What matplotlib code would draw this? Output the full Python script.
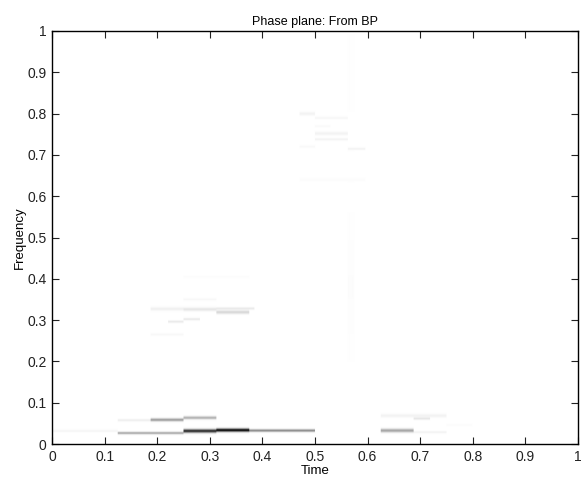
import numpy as np
from matplotlib import pyplot as plt

plt.rcParams['font.family'] = ['Liberation Sans', 'DejaVu Sans']

# time-frequency atoms
t_start = [0.0, 0.125, 0.25, 0.3125, 0.375, 0.125, 0.1875, 0.25, 0.625, 0.6875, 0.625, 0.6875, 0.75,
           0.1875, 0.25, 0.3125, 0.3125, 0.22, 0.25, 0.25, 0.1875, 0.25,
           0.47, 0.5, 0.5, 0.5, 0.5625, 0.47, 0.5, 0.47, 0.5625, 0.5625]
t_end = [0.125, 0.25, 0.3125, 0.375, 0.5, 0.1875, 0.25, 0.3125, 0.6875, 0.75, 0.75, 0.72, 0.8,
         0.25, 0.3125, 0.375, 0.385, 0.25, 0.28, 0.3125, 0.25, 0.375,
         0.5, 0.5625, 0.5625, 0.5625, 0.595, 0.5, 0.53, 0.595, 0.575, 0.575]
freq = [0.031, 0.026, 0.031, 0.033, 0.032, 0.057, 0.058, 0.063, 0.032, 0.028, 0.068, 0.061, 0.045,
        0.327, 0.326, 0.319, 0.328, 0.296, 0.302, 0.35, 0.265, 0.405,
        0.8, 0.79, 0.752, 0.738, 0.715, 0.72, 0.77, 0.64, 0.38, 0.9]
bw = [0.002, 0.002, 0.003, 0.0028, 0.0022, 0.002, 0.0025, 0.0025, 0.003, 0.002, 0.003, 0.002, 0.002,
      0.003, 0.003, 0.003, 0.002, 0.002, 0.002, 0.002, 0.002, 0.002,
      0.003, 0.002, 0.003, 0.002, 0.002, 0.002, 0.002, 0.003, 0.12, 0.1]
level = [0.04, 0.36, 0.85, 1.0, 0.48, 0.07, 0.4, 0.32, 0.36, 0.05, 0.05, 0.1, 0.015,
         0.06, 0.1, 0.16, 0.09, 0.09, 0.09, 0.03, 0.03, 0.012,
         0.05, 0.035, 0.05, 0.05, 0.05, 0.025, 0.025, 0.012, 0.012, 0.006]

tick_vals = [0, 0.1, 0.2, 0.3, 0.4, 0.5, 0.6, 0.7, 0.8, 0.9, 1]
tick_labels = ['0', '0.1', '0.2', '0.3', '0.4', '0.5', '0.6', '0.7', '0.8', '0.9', '1']

t = np.linspace(0, 1, 512)
f = np.linspace(0, 1, 826)
tfr = np.zeros((len(f), len(t)))
for i in range(len(freq)):
    inside = (t >= t_start[i]) & (t < t_end[i])
    tfr[:, inside] += level[i] * np.exp(-0.5 * ((f - freq[i]) / bw[i]) ** 2)[:, None]

fig = plt.figure(figsize=(5.84, 4.78), dpi=100)
ax = fig.add_axes([52 / 584, 1 - 444 / 478, 526 / 584, 413 / 478])
ax.imshow(tfr, origin='lower', extent=[0, 1, 0, 1], aspect='auto', cmap='gray_r',
          vmin=0, vmax=1, interpolation='bilinear')

ax.set_xticks(tick_vals)
ax.set_xticklabels(tick_labels)
ax.set_yticks(tick_vals)
ax.set_yticklabels(tick_labels)
ax.tick_params(direction='in', top=True, right=True, length=5, width=0.8, labelsize=10, pad=4, colors='#222222')
for s in ax.spines.values():
    s.set_linewidth(1.0)
ax.set_xlabel('Time', fontsize=9.5, labelpad=1)
ax.set_ylabel('Frequency', fontsize=9.5, labelpad=1)
ax.set_title('Phase plane: From BP', fontsize=9, pad=4)

fig.savefig('out.png', dpi=100)
